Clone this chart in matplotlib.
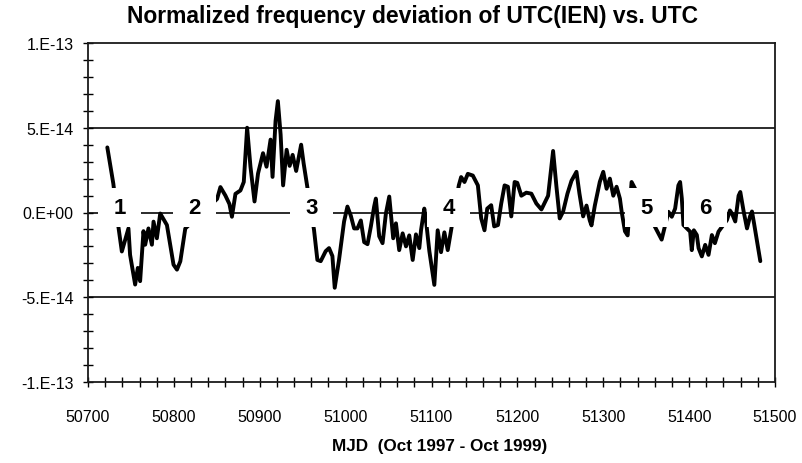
import matplotlib
matplotlib.use("Agg")
import matplotlib.pyplot as plt
from matplotlib.patches import Rectangle
from matplotlib.ticker import MultipleLocator

plt.rcParams['font.family'] = ['Liberation Sans', 'DejaVu Sans']

# MJD and normalized frequency deviation (units of 1e-14)
mjd = [50722.5, 50729.5, 50735.4, 50739.4, 50747.1, 50749.0, 50754.9, 50758.0, 50760.7,
       50764.6, 50766.6, 50770.4, 50774.4, 50776.3, 50780.2, 50784.1, 50791.9, 50799.6,
       50803.6, 50807.5, 50813.3,
       50850.3, 50854.2, 50860.0, 50864.7, 50867.6, 50871.7, 50877.5, 50881.4, 50885.3,
       50889.2, 50893.9, 50898.0, 50903.8, 50907.9, 50912.6, 50914.9, 50918.4, 50921.1,
       50924.3, 50927.2, 50931.3, 50934.8, 50938.3, 50942.4, 50948.2, 50951.1, 50955.4,
       50963.2, 50967.1, 50971.0, 50976.8, 50980.7, 50984.6, 50987.3, 50992.3, 50998.2,
       51002.1, 51006.0, 51009.9, 51013.8, 51017.7, 51021.6, 51025.5, 51029.4, 51033.2,
       51035.2, 51039.1, 51043.0, 51046.9, 51050.8, 51055.4, 51058.6, 51062.4, 51066.4,
       51070.3, 51074.1, 51078.1, 51081.9, 51085.8, 51087.8, 51091.6, 51093.6, 51097.5,
       51103.3, 51107.2, 51111.1, 51115.0, 51118.9, 51122.8,
       51131.8, 51134.5, 51138.4, 51142.3, 51148.1, 51154.0, 51157.9, 51161.7, 51164.9,
       51169.5, 51173.0, 51177.4, 51181.2, 51185.1, 51189.0, 51192.9, 51196.8, 51199.9,
       51204.6, 51210.4, 51216.3, 51222.1, 51228.0, 51235.8, 51241.6, 51245.5, 51249.3,
       51253.3, 51258.3, 51263.0, 51268.8, 51272.3, 51276.6, 51280.5, 51284.3, 51286.3,
       51290.2, 51296.0, 51300.0, 51303.9, 51307.7, 51311.7, 51315.5, 51319.4, 51321.4,
       51325.3, 51328.4,
       51333.0, 51368.0,
       51375.9, 51379.8, 51383.7, 51387.5, 51389.5, 51391.5, 51393.4,
       51401.2, 51403.1, 51405.5, 51409.0, 51411.0, 51414.8, 51418.7, 51422.6, 51426.5,
       51430.0, 51434.2,
       51444.0, 51447.5, 51449.9, 51453.7, 51457.6, 51459.6, 51463.5, 51467.4, 51470.9,
       51473.2, 51475.6, 51479.1, 51482.9]

dev = [3.84, 1.7, -0.84, -2.3, -0.94, -2.5, -4.25, -3.27, -4.05,
       -1.1, -1.9, -0.94, -1.9, -0.54, -1.52, -0.06, -0.74, -3.08,
       -3.37, -2.88, -0.94,
       0.8, 1.5, 1.0, 0.5, -0.25, 1.1, 1.3, 1.8, 5.0,
       2.7, 0.65, 2.3, 3.5, 2.7, 4.3, 2.1, 5.4, 6.57,
       4.6, 1.6, 3.7, 2.75, 3.4, 2.45, 4.0, 2.9, 1.5,
       -1.03, -2.8, -2.87, -2.28, -2.1, -2.57, -4.44, -2.8, -0.53,
       0.35, -0.18, -0.94, -0.94, -0.47, -1.75, -1.87, -0.82, 0.35,
       0.82, -1.4, -1.81, -0.06, 0.94, -1.52, -0.64, -2.22, -1.23,
       -2.0, -1.35, -2.8, -1.29, -2.1, -1.05, 0.23, -0.47, -2.28,
       -4.27, -1.05, -2.34, -1.17, -2.22, -1.05,
       1.6, 2.09, 1.8, 2.28, 2.18, 1.6, -0.35, -1.05, 0.23,
       0.43, -0.82, -0.74, 0.53, 1.6, 1.52, -0.23, 1.8, 1.75,
       0.99, 1.17, 1.11, 0.53, 0.18, 0.99, 3.63, 1.52, -0.35,
       0.06, 1.11, 1.87, 2.4, 1.11, -0.23, 0.41, -0.47, -0.76,
       0.41, 1.81, 2.4, 1.4, 2.0, 0.99, 1.52, 0.82, 0.06,
       -1.11, -1.35,
       1.8, -1.6,
       0.04, -0.25, 0.23, 1.6, 1.8, 0.82, -0.74,
       -1.13, -2.22, -1.05, -1.33, -2.1, -2.59, -1.91, -2.5, -1.33,
       -1.81, -1.13,
       -0.45, 0.12, -0.06, -0.53, 0.99, 1.21, 0.06, -0.94, -0.23,
       0.06, -0.64, -1.7, -2.87]

# period markers written on the curve
period_labels = ['1', '2', '3', '4', '5', '6']
period_mjd = [50737, 50824, 50960, 51120, 51350, 51419]
period_y = [0.3, 0.3, 0.3, 0.3, 0.3, 0.3]

yticks = [-10, -5, 0, 5, 10]
ytick_labels = ['-1.E-13', '-5.E-14', '0.E+00', '5.E-14', '1.E-13']
xticks = [50700, 50800, 50900, 51000, 51100, 51200, 51300, 51400, 51500]

fig = plt.figure(figsize=(8.02, 4.64), dpi=100)
ax = fig.add_axes([88/802, 1-383/464, 687/802, 339/464])

for g in [-5, 0, 5]:
    ax.axhline(g, color='#1a1a1a', lw=1.3, zorder=1)

ax.plot(mjd, dev, color='black', lw=2.8, solid_joinstyle='round', solid_capstyle='round', zorder=2)

for lab, x, y in zip(period_labels, period_mjd, period_y):
    ax.add_patch(Rectangle((x-25, y-1.17), 50, 2.34, facecolor='white', edgecolor='none', zorder=3))
    ax.text(x, y, lab, fontsize=16, fontweight='bold', ha='center', va='center', zorder=4)

ax.set_xlim(50700, 51500)
ax.set_ylim(-10, 10)
ax.set_xticks(xticks)
ax.set_yticks(yticks)
ax.set_yticklabels(ytick_labels)
ax.xaxis.set_minor_locator(MultipleLocator(20))
ax.yaxis.set_minor_locator(MultipleLocator(1))
ax.tick_params(which='both', direction='inout', length=7, width=1, labelsize=11.5, color='black')
ax.tick_params(axis='x', pad=16)
ax.tick_params(axis='y', pad=7)
for s in ax.spines.values():
    s.set_linewidth(1.3)
    s.set_color('#1a1a1a')

fig.text(413/802, 1-17/464, 'Normalized frequency deviation of UTC(IEN) vs. UTC',
         fontsize=16.5, fontweight='bold', ha='center', va='center')
fig.text(440/802, 1-447/464, 'MJD  (Oct 1997 - Oct 1999)',
         fontsize=12.3, fontweight='bold', ha='center', va='center')

fig.savefig('out.png', dpi=100)
